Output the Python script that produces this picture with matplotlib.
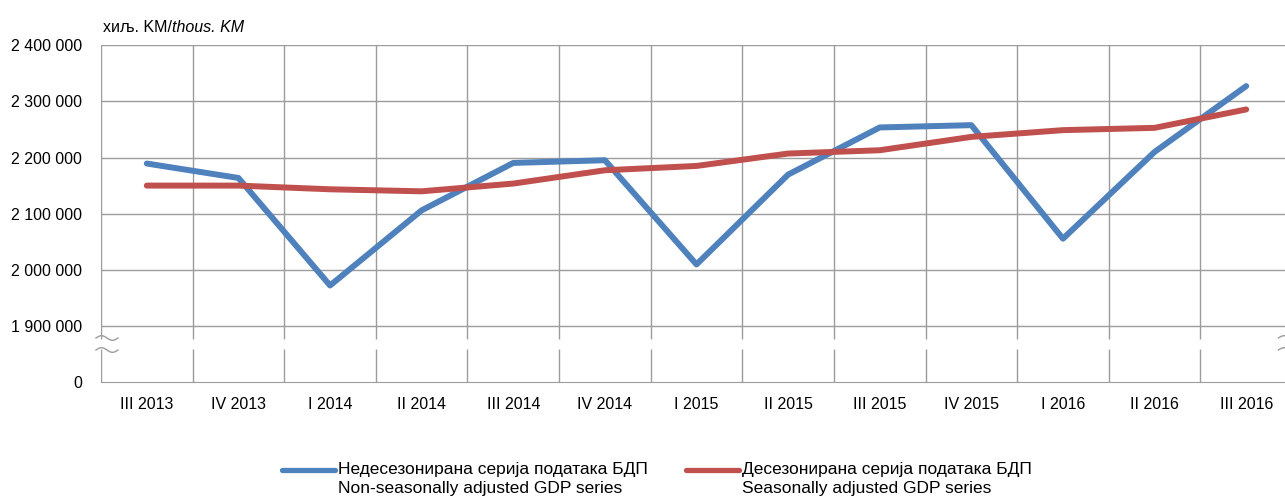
import numpy as np
import matplotlib
matplotlib.use("Agg")
import matplotlib.pyplot as plt
from matplotlib.lines import Line2D
from matplotlib.ticker import FuncFormatter

plt.rcParams['font.family'] = ['Liberation Sans', 'DejaVu Sans']

quarters = ["III 2013", "IV 2013", "I 2014", "II 2014", "III 2014", "IV 2014",
            "I 2015", "II 2015", "III 2015", "IV 2015", "I 2016", "II 2016", "III 2016"]
nsa_gdp = [2189300, 2163600, 1972000, 2105900, 2190400, 2195200, 2009500,
           2169600, 2253600, 2257700, 2055400, 2210000, 2327300]
sa_gdp = [2150000, 2150000, 2143400, 2139800, 2153600, 2177300, 2185000,
          2207100, 2213000, 2236800, 2248800, 2252900, 2285700]
nsa_label = "Недесезонирана серија података БДП\nNon-seasonally adjusted GDP series"
sa_label = "Десезонирана серија података БДП\nSeasonally adjusted GDP series"
unit_label = "хиљ. KM/"
unit_label_en = "thous. KM"

# axis break: the bottom tick stands for 0
y_lo, y_hi = 1800000, 2400000
gap_lo, gap_hi = 1858900, 1876800

blue = "#4F81BD"
red = "#C0504D"
grid_c = "#9c9c9c"

fig = plt.figure(figsize=(12.85, 5.0), dpi=100)
ax = fig.add_axes([101 / 1285, 1 - 382 / 500, 1191 / 1285, 336.7 / 500])

x = np.arange(len(quarters))
ax.set_xlim(-0.5, len(quarters) - 0.5)
ax.set_ylim(y_lo, y_hi)

# horizontal grid
for v in range(1900000, 2400001, 100000):
    ax.axhline(v, color=grid_c, lw=1, zorder=1)
# vertical grid at category borders, broken at the axis gap
edges = np.arange(-0.5, len(quarters), 1.0)
ax.vlines(edges, y_lo, gap_lo, color=grid_c, lw=1, zorder=1)
ax.vlines(edges, gap_hi, y_hi, color=grid_c, lw=1, zorder=1)

for s in ["top", "right", "left"]:
    ax.spines[s].set_visible(False)
ax.spines["bottom"].set_color(grid_c)

ax.plot(x, nsa_gdp, color=blue, lw=4.3, solid_capstyle="round", zorder=3)
ax.plot(x, sa_gdp, color=red, lw=4.3, solid_capstyle="round", zorder=3)

ax.set_xticks(x)
ax.set_xticklabels(quarters)
ax.set_yticks(np.arange(y_lo, y_hi + 1, 100000))
ax.yaxis.set_major_formatter(FuncFormatter(
    lambda v, p: "0" if v <= y_lo else f"{int(v):,}".replace(",", " ")))
ax.tick_params(axis="both", length=0, labelsize=11.5)
ax.tick_params(axis="y", pad=13.5)
ax.tick_params(axis="x", pad=11)

# break marks on both sides
t = np.linspace(0, 1, 40)
w = 22 / 1191
amp = 2.3 / 336.7
for xc in [-0.0021 + w / 2 - 0.0021, 1.0 - 0.0021]:
    for yc in [(382 - 338) / 336.7, (382 - 350) / 336.7]:
        ax.plot(xc - w / 2 + w * t, yc + amp * np.sin(2 * np.pi * t),
                color=grid_c, lw=1, transform=ax.transAxes, clip_on=False)

# unit label: upright part, then italic part right after it
u1 = fig.text(103 / 1285, 1 - 27 / 500, unit_label, fontsize=11.5, va="center", ha="left")
fig.canvas.draw()
bb = u1.get_window_extent()
fig.text(bb.x1 / 1285, 1 - 27 / 500, unit_label_en, fontsize=11.5, va="center",
         ha="left", style="italic")

# legend drawn by hand so the key sits on the first text line
for lx, col, lab in [(282, blue, nsa_label), (686, red, sa_label)]:
    fig.add_artist(Line2D([lx / 1285, (lx + 53) / 1285], [1 - 470 / 500] * 2,
                          color=col, lw=3.8, solid_capstyle="round"))
    fig.text((lx + 56) / 1285, 1 - 462 / 500, lab, fontsize=12.5, va="top",
             ha="left", linespacing=1.3)

fig.savefig("out.png", dpi=100)
